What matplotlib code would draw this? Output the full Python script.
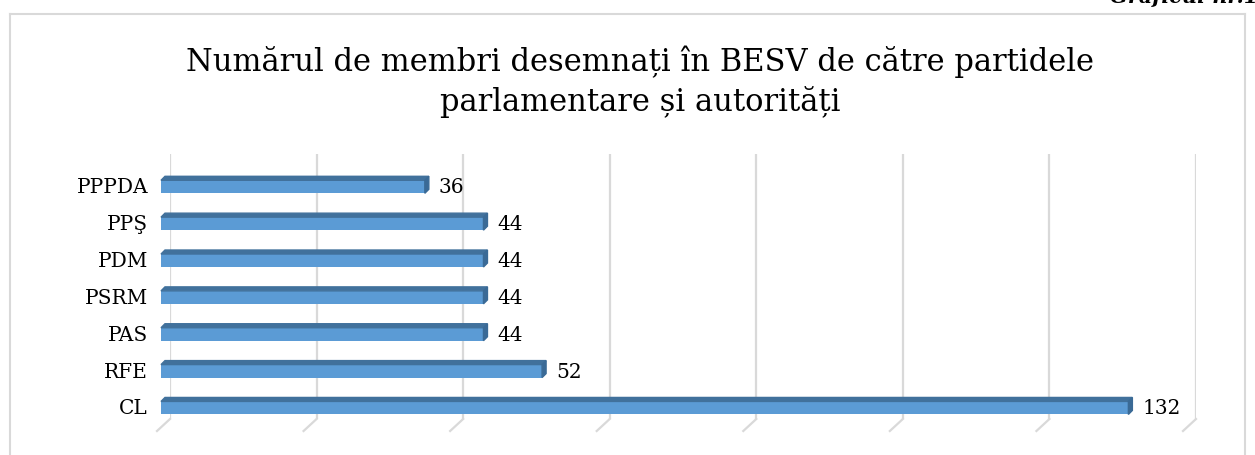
import matplotlib.pyplot as plt
from matplotlib.patches import Polygon

W, H = 1255, 456

parties = ['CL', 'RFE', 'PAS', 'PSRM', 'PDM', 'PPŞ', 'PPPDA']
members = [132, 52, 44, 44, 44, 44, 36]
xticks = [0, 20, 40, 60, 80, 100, 120, 140]

front = '#5B9BD5'
top_c = '#41719C'
side_c = '#3A6A96'
grid_c = '#D9D9D9'

plt.rcParams['font.family'] = ['DejaVu Serif']

fig = plt.figure(figsize=(W / 100, H / 100), dpi=100)

# chart frame (open at the bottom, like the cropped reference)
fig.add_artist(plt.Line2D([10 / W, 1245 / W], [1 - 15 / H, 1 - 15 / H],
                          color=grid_c, lw=1.5, transform=fig.transFigure))
fig.add_artist(plt.Line2D([10 / W, 10 / W], [0, 1 - 15 / H],
                          color=grid_c, lw=1.5, transform=fig.transFigure))
fig.add_artist(plt.Line2D([1245 / W, 1245 / W], [0, 1 - 15 / H],
                          color=grid_c, lw=1.5, transform=fig.transFigure))

# caption cut at the top of the page
fig.text(1258 / W, 1 + 3 / H, 'Graficul nr.1', ha='right', va='center',
         fontsize=15, fontweight='bold', fontstyle='italic')

fig.text(640 / W, 1 - 62 / H, 'Numărul de membri desemnați în BESV de către partidele',
         ha='center', va='center', fontsize=22)
fig.text(640 / W, 1 - 102 / H, 'parlamentare și autorități',
         ha='center', va='center', fontsize=22)

ax = fig.add_axes([170 / W, 1 - 420 / H, (1196 - 170) / W, (420 - 155) / H])
ax.set_xlim(0, 140)
ax.set_ylim(-0.35, 6.84)
for s in ax.spines.values():
    s.set_visible(False)
ax.set_xticks([])
ax.set_yticks([])

px = 140 / (1196 - 170)       # data units per pixel, x
py = 7.19 / (420 - 155)       # data units per pixel, y

# back wall gridlines plus the oblique floor ticks
for t in xticks:
    ax.plot([t, t], [-0.35, 6.84], color=grid_c, lw=1.6, zorder=0)
    ax.plot([t, t - 13 * px], [-0.35, -0.35 - 12 * py], color=grid_c, lw=1.6,
            zorder=0, clip_on=False)

x0 = -9 * px
bh = 13 * py
dx, dy = 4 * px, 4 * py
for i, (name, v) in enumerate(zip(parties, members)):
    y = i - 0.05
    ax.barh(y, v, left=x0, height=bh, color=front, zorder=3, clip_on=False)
    yt, yb = y + bh / 2, y - bh / 2
    ax.add_patch(Polygon([(x0, yt), (x0 + dx, yt + dy), (x0 + v + dx, yt + dy), (x0 + v, yt)],
                         closed=True, color=top_c, zorder=3, clip_on=False))
    ax.add_patch(Polygon([(x0 + v, yb), (x0 + v + dx, yb + dy), (x0 + v + dx, yt + dy), (x0 + v, yt)],
                         closed=True, color=side_c, zorder=3, clip_on=False))
    ax.text(x0 + v + 14 * px, y, str(v), ha='left', va='center', fontsize=14.5, zorder=4)
    ax.text(-22 * px, y, name, ha='right', va='center', fontsize=14.5, clip_on=False)

fig.savefig('out.png', dpi=100)
